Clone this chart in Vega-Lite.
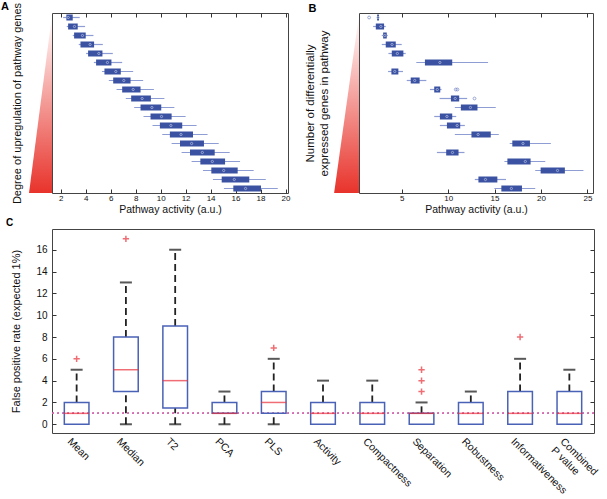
{
  "$schema": "https://vega.github.io/schema/vega-lite/v6.json",
  "padding": {"left": 0, "top": 0, "right": 0, "bottom": 0},
  "config": {
    "font": "Liberation Sans",
    "view": {"stroke": "#444", "strokeWidth": 1},
    "axis": {"labelColor": "#111", "titleColor": "#111", "titleFontWeight": "normal", "grid": false, "domain": false, "tickColor": "#333", "minExtent": 0, "labelOverlap": false, "labelFlush": false},
    "title": {"fontSize": 11, "fontWeight": "bold", "anchor": "start", "frame": "bounds", "offset": 1, "color": "#000"}
  },
  "datasets": {
    "triA": [{"tx": 1.3, "tx2": 1.3, "ty": 0.72}, {"tx": -0.54, "tx2": 1.3, "ty": 20.5}],
    "triB": [{"tx": 0.4, "tx2": 0.4, "ty": 0.72}, {"tx": -2.28, "tx2": 0.4, "ty": 20.5}],
    "A": [
      {"row": 1, "lo": 2.19, "q1": 2.45, "med": 2.6, "q3": 2.96, "hi": 3.52},
      {"row": 2, "lo": 2.48, "q1": 2.59, "med": 3.1, "q3": 3.36, "hi": 3.95},
      {"row": 3, "lo": 2.96, "q1": 3.07, "med": 3.74, "q3": 4.0, "hi": 4.62},
      {"row": 4, "lo": 3.44, "q1": 3.58, "med": 4.35, "q3": 4.67, "hi": 5.37},
      {"row": 5, "lo": 4.03, "q1": 4.19, "med": 5.05, "q3": 5.34, "hi": 6.17},
      {"row": 6, "lo": 4.65, "q1": 4.83, "med": 5.74, "q3": 6.06, "hi": 6.92},
      {"row": 7, "lo": 5.3, "q1": 5.5, "med": 6.41, "q3": 6.81, "hi": 7.8},
      {"row": 8, "lo": 5.85, "q1": 6.2, "med": 7.05, "q3": 7.59, "hi": 8.6},
      {"row": 9, "lo": 6.47, "q1": 6.92, "med": 7.8, "q3": 8.39, "hi": 9.46},
      {"row": 10, "lo": 7.21, "q1": 7.64, "med": 8.52, "q3": 9.22, "hi": 10.3},
      {"row": 11, "lo": 7.88, "q1": 8.39, "med": 9.3, "q3": 10.05, "hi": 11.1},
      {"row": 12, "lo": 8.63, "q1": 9.19, "med": 10.07, "q3": 10.88, "hi": 12.0},
      {"row": 13, "lo": 9.35, "q1": 9.94, "med": 10.82, "q3": 11.73, "hi": 12.88},
      {"row": 14, "lo": 10.13, "q1": 10.74, "med": 11.63, "q3": 12.59, "hi": 13.76},
      {"row": 15, "lo": 10.88, "q1": 11.55, "med": 12.48, "q3": 13.47, "hi": 14.65},
      {"row": 16, "lo": 11.68, "q1": 12.35, "med": 13.34, "q3": 14.33, "hi": 15.53},
      {"row": 17, "lo": 12.48, "q1": 13.18, "med": 14.14, "q3": 15.16, "hi": 16.36},
      {"row": 18, "lo": 13.39, "q1": 14.06, "med": 15.05, "q3": 16.17, "hi": 17.45},
      {"row": 19, "lo": 14.19, "q1": 14.89, "med": 15.9, "q3": 17.1, "hi": 18.42},
      {"row": 20, "lo": 15.07, "q1": 15.82, "med": 16.8, "q3": 18.04, "hi": 19.38}
    ],
    "B": [
      {"row": 1, "lo": 2.3, "q1": 2.35, "med": 2.45, "q3": 2.55, "hi": 2.6},
      {"row": 2, "lo": 1.92, "q1": 2.21, "med": 2.75, "q3": 3.1, "hi": 3.28},
      {"row": 3, "lo": 2.85, "q1": 3.0, "med": 3.18, "q3": 3.39, "hi": 3.5},
      {"row": 4, "lo": 2.85, "q1": 3.28, "med": 3.96, "q3": 4.36, "hi": 5.0},
      {"row": 5, "lo": 3.57, "q1": 3.93, "med": 4.53, "q3": 5.18, "hi": 5.43},
      {"row": 6, "lo": 6.57, "q1": 7.5, "med": 9.11, "q3": 10.44, "hi": 14.3},
      {"row": 7, "lo": 3.53, "q1": 3.89, "med": 4.25, "q3": 4.64, "hi": 5.14},
      {"row": 8, "lo": 5.54, "q1": 5.97, "med": 6.4, "q3": 6.93, "hi": 7.65},
      {"row": 9, "lo": 8.04, "q1": 8.5, "med": 8.83, "q3": 9.15, "hi": 9.29},
      {"row": 10, "lo": 9.08, "q1": 10.3, "med": 10.76, "q3": 11.19, "hi": 12.05},
      {"row": 11, "lo": 10.72, "q1": 11.37, "med": 12.4, "q3": 13.16, "hi": 15.13},
      {"row": 12, "lo": 8.5, "q1": 9.11, "med": 9.87, "q3": 10.44, "hi": 10.87},
      {"row": 13, "lo": 9.11, "q1": 9.87, "med": 10.97, "q3": 11.3, "hi": 11.8},
      {"row": 14, "lo": 10.72, "q1": 12.51, "med": 13.23, "q3": 14.59, "hi": 15.45},
      {"row": 15, "lo": 16.63, "q1": 16.91, "med": 18.06, "q3": 18.81, "hi": 21.06},
      {"row": 16, "lo": 8.79, "q1": 9.79, "med": 10.47, "q3": 11.12, "hi": 11.76},
      {"row": 17, "lo": 16.06, "q1": 16.38, "med": 18.31, "q3": 18.88, "hi": 20.46},
      {"row": 18, "lo": 19.38, "q1": 19.96, "med": 21.78, "q3": 22.57, "hi": 24.57},
      {"row": 19, "lo": 12.87, "q1": 13.26, "med": 14.02, "q3": 15.3, "hi": 16.23},
      {"row": 20, "lo": 14.98, "q1": 15.73, "med": 16.81, "q3": 17.95, "hi": 19.38}
    ],
    "Bout": [
      {"row": 1, "v": 1.49},
      {"row": 9, "v": 10.82},
      {"row": 9, "v": 11.0},
      {"row": 10, "v": 12.84}
    ],
    "C": [
      {"method": "Mean", "lo": 0, "q1": 0, "med": 1, "q3": 2, "hi": 5},
      {"method": "Median", "lo": 0, "q1": 3, "med": 5, "q3": 8, "hi": 13},
      {"method": "T2", "lo": 0, "q1": 1.5, "med": 4, "q3": 9, "hi": 16},
      {"method": "PCA", "lo": 0, "q1": 1, "med": 1, "q3": 2, "hi": 3},
      {"method": "PLS", "lo": 0, "q1": 1, "med": 2, "q3": 3, "hi": 6},
      {"method": "Activity", "lo": 0, "q1": 0, "med": 1, "q3": 2, "hi": 4},
      {"method": "Compactness", "lo": 0, "q1": 0, "med": 1, "q3": 2, "hi": 4},
      {"method": "Separation", "lo": 0, "q1": 0, "med": 1, "q3": 1, "hi": 2},
      {"method": "Robustness", "lo": 0, "q1": 0, "med": 1, "q3": 2, "hi": 3},
      {"method": "Informativeness", "lo": 0, "q1": 0, "med": 1, "q3": 3, "hi": 6},
      {"method": "Combined P value", "lo": 0, "q1": 0, "med": 1, "q3": 3, "hi": 5}
    ],
    "Cout": [
      {"method": "Mean", "v": 6},
      {"method": "Median", "v": 17},
      {"method": "PLS", "v": 7},
      {"method": "Separation", "v": 3},
      {"method": "Separation", "v": 4},
      {"method": "Separation", "v": 5},
      {"method": "Informativeness", "v": 8}
    ]
  },
  "vconcat": [
    {
      "hconcat": [
        {
          "width": 236, "height": 180,
          "title": {"text": "A", "dx": -10, "offset": -10},
          "layer": [
            {
              "data": {"name": "triA"},
              "mark": {"type": "area", "orient": "horizontal", "fill": {"gradient": "linear", "x1": 0, "y1": 0, "x2": 0, "y2": 1, "stops": [{"offset": 0, "color": "#ffffff"}, {"offset": 1, "color": "#e8332b"}]}},
              "encoding": {
                "x": {"field": "tx", "type": "quantitative", "scale": {"domain": [1.3, 20.2], "nice": false, "zero": false},
                      "axis": {"orient": "bottom", "title": "Pathway activity (a.u.)", "values": [2,4,6,8,10,12,14,16,18,20], "labelOverlap": false, "labelFontSize": 8, "tickSize": -4, "labelPadding": 5, "titleFontSize": 10.5, "titlePadding": 2}},
                "x2": {"field": "tx2"},
                "y": {"field": "ty", "type": "quantitative", "scale": {"domain": [0.5, 20.5], "reverse": true, "nice": false, "zero": false},
                      "axis": {"title": "Degree of upregulation of pathway genes", "labels": false, "ticks": false, "titlePadding": 30, "titleFontSize": 11}}
              }
            },
            {
              "data": {"name": "A"},
              "mark": {"type": "rule", "color": "#8e9dd3", "strokeWidth": 1.2},
              "encoding": {
                "x": {"field": "lo", "type": "quantitative",
                      "axis": {"orient": "top", "title": null, "labels": false, "values": [2,4,6,8,10,12,14,16,18,20], "tickSize": -4}},
                "x2": {"field": "hi"},
                "y": {"field": "row", "type": "quantitative", "axis": null}
              }
            },
            {
              "data": {"name": "A"},
              "mark": {"type": "rule", "color": "#3b52a3", "strokeWidth": 6, "strokeCap": "butt"},
              "encoding": {
                "x": {"field": "q1", "type": "quantitative", "axis": null},
                "x2": {"field": "q3"},
                "y": {"field": "row", "type": "quantitative", "axis": null}
              }
            },
            {
              "data": {"name": "A"},
              "mark": {"type": "point", "filled": false, "color": "#dde2f4", "size": 5, "strokeWidth": 0.8},
              "encoding": {
                "x": {"field": "med", "type": "quantitative", "axis": null},
                "y": {"field": "row", "type": "quantitative", "axis": null}
              }
            }
          ],
          "resolve": {"axis": {"x": "independent", "y": "independent"}}
        },
        {
          "width": 234, "height": 180,
          "title": {"text": "B", "dx": 4, "offset": -1},
          "layer": [
            {
              "data": {"name": "triB"},
              "mark": {"type": "area", "orient": "horizontal", "fill": {"gradient": "linear", "x1": 0, "y1": 0, "x2": 0, "y2": 1, "stops": [{"offset": 0, "color": "#ffffff"}, {"offset": 1, "color": "#e8332b"}]}},
              "encoding": {
                "x": {"field": "tx", "type": "quantitative", "scale": {"domain": [0.4, 25.6], "nice": false, "zero": false},
                      "axis": {"orient": "bottom", "title": "Pathway activity (a.u.)", "values": [5,10,15,20,25], "labelOverlap": false, "labelFontSize": 8, "tickSize": -4, "labelPadding": 5, "titleFontSize": 10.5, "titlePadding": 2}},
                "x2": {"field": "tx2"},
                "y": {"field": "ty", "type": "quantitative", "scale": {"domain": [0.5, 20.5], "reverse": true, "nice": false, "zero": false},
                      "axis": {"title": ["Number of differentially", "expressed genes in pathway"], "labels": false, "ticks": false, "titlePadding": 30, "titleFontSize": 11.5}}
              }
            },
            {
              "data": {"name": "B"},
              "mark": {"type": "rule", "color": "#8e9dd3", "strokeWidth": 1.2},
              "encoding": {
                "x": {"field": "lo", "type": "quantitative",
                      "axis": {"orient": "top", "title": null, "labels": false, "values": [5,10,15,20,25], "tickSize": -4}},
                "x2": {"field": "hi"},
                "y": {"field": "row", "type": "quantitative", "axis": null}
              }
            },
            {
              "data": {"name": "B"},
              "mark": {"type": "rule", "color": "#3b52a3", "strokeWidth": 6, "strokeCap": "butt"},
              "encoding": {
                "x": {"field": "q1", "type": "quantitative", "axis": null},
                "x2": {"field": "q3"},
                "y": {"field": "row", "type": "quantitative", "axis": null}
              }
            },
            {
              "data": {"name": "B"},
              "mark": {"type": "point", "filled": false, "color": "#dde2f4", "size": 5, "strokeWidth": 0.8},
              "encoding": {
                "x": {"field": "med", "type": "quantitative", "axis": null},
                "y": {"field": "row", "type": "quantitative", "axis": null}
              }
            },
            {
              "data": {"name": "Bout"},
              "mark": {"type": "point", "filled": false, "color": "#6d80c4", "size": 8, "strokeWidth": 1},
              "encoding": {
                "x": {"field": "v", "type": "quantitative", "axis": null},
                "y": {"field": "row", "type": "quantitative", "axis": null}
              }
            }
          ],
          "resolve": {"axis": {"x": "independent", "y": "independent"}}
        }
      ],
      "spacing": 13
    },
    {
      "width": 542, "height": 204,
      "title": {"text": "C", "dx": -5, "fontSize": 10},
      "layer": [
        {
          "data": {"name": "C"},
          "mark": {"type": "rule", "color": "#222", "strokeWidth": 1.8, "strokeDash": [7, 4]},
          "encoding": {
            "x": {"field": "method", "type": "nominal", "sort": null, "scale": {"paddingInner": 0, "paddingOuter": 0},
                  "axis": {"title": null, "labelAngle": 45, "labelAlign": "left", "labelBaseline": "top", "ticks": false, "labelPadding": 3, "labelOffset": -4, "labelFontSize": 10.5,
                           "labelExpr": "datum.value == 'Combined P value' ? ['Combined', 'P value'] : datum.value"}},
            "y": {"field": "q3", "type": "quantitative", "scale": {"domain": [-0.8, 17.9], "nice": false, "zero": false},
                  "axis": {"orient": "left", "title": "False positive rate (expected 1%)", "values": [0,2,4,6,8,10,12,14,16], "labelOverlap": false, "tickSize": -4, "labelPadding": 9, "labelFontSize": 10, "titleFontSize": 11, "titlePadding": 14}},
            "y2": {"field": "hi"}
          }
        },
        {
          "data": {"name": "C"},
          "transform": [{"filter": "datum.lo < datum.q1"}],
          "mark": {"type": "rule", "color": "#222", "strokeWidth": 1.8, "strokeDash": [7, 4]},
          "encoding": {
            "x": {"field": "method", "type": "nominal", "sort": null, "axis": null},
            "y": {"field": "lo", "type": "quantitative",
                  "axis": {"orient": "right", "title": null, "labels": false, "values": [0,2,4,6,8,10,12,14,16], "tickSize": -4}},
            "y2": {"field": "q1"}
          }
        },
        {
          "data": {"name": "C"},
          "mark": {"type": "tick", "color": "#111", "size": 12, "thickness": 2},
          "encoding": {
            "x": {"field": "method", "type": "nominal", "sort": null, "axis": null},
            "y": {"field": "hi", "type": "quantitative", "axis": null}
          }
        },
        {
          "data": {"name": "C"},
          "transform": [{"filter": "datum.lo < datum.q1"}],
          "mark": {"type": "tick", "color": "#111", "size": 12, "thickness": 2},
          "encoding": {
            "x": {"field": "method", "type": "nominal", "sort": null, "axis": null},
            "y": {"field": "lo", "type": "quantitative", "axis": null}
          }
        },
        {
          "data": {"name": "C"},
          "mark": {"type": "rule", "color": "#d66cb2", "strokeWidth": 1.2, "strokeDash": [1.5, 3.5]},
          "encoding": {
            "y": {"datum": 1, "type": "quantitative", "axis": null}
          }
        },
        {
          "data": {"name": "C"},
          "mark": {"type": "bar", "filled": false, "color": "#4a62b5", "strokeWidth": 1.5, "width": {"band": 0.5}},
          "encoding": {
            "x": {"field": "method", "type": "nominal", "sort": null, "axis": null},
            "y": {"field": "q1", "type": "quantitative", "axis": null},
            "y2": {"field": "q3"}
          }
        },
        {
          "data": {"name": "C"},
          "mark": {"type": "tick", "color": "#e8313a", "size": 25, "thickness": 1.5},
          "encoding": {
            "x": {"field": "method", "type": "nominal", "sort": null, "axis": null},
            "y": {"field": "med", "type": "quantitative", "axis": null}
          }
        },
        {
          "data": {"name": "Cout"},
          "mark": {"type": "point", "shape": "M-1,0L1,0M0,-1L0,1", "filled": false, "color": "#e8313a", "strokeWidth": 1.5, "size": 40},
          "encoding": {
            "x": {"field": "method", "type": "nominal", "sort": null, "axis": null},
            "y": {"field": "v", "type": "quantitative", "axis": null}
          }
        }
      ],
      "resolve": {"axis": {"x": "independent", "y": "independent"}}
    }
  ],
  "spacing": 2
}
